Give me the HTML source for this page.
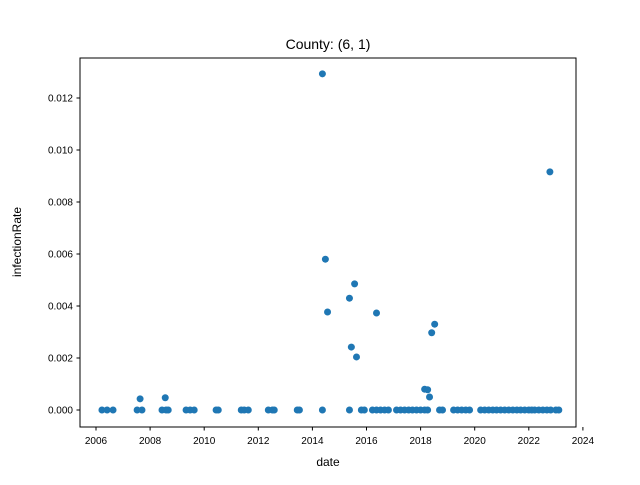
<!DOCTYPE html>
<html><head><meta charset="utf-8"><style>
body{margin:0;background:#fff;}
svg text{font-family:"Liberation Sans","DejaVu Sans",sans-serif;font-size:10px;fill:#000;}
</style></head><body>
<svg id="chart" width="640" height="480" xmlns="http://www.w3.org/2000/svg">
<rect width="640" height="480" fill="#fff"/>
<text x="328" y="49" text-anchor="middle" style="font-size:14px">County: (6, 1)</text>
<g id="plot"></g>
<rect x="80" y="58" width="496" height="369" fill="none" stroke="#000" stroke-width="1"/>
<text x="328" y="466" text-anchor="middle" style="font-size:12px">date</text>
<text transform="translate(21,242) rotate(-90)" text-anchor="middle" style="font-size:12px">infectionRate</text>
</svg>
<script>
const zeroYears = [2006.22,2006.41,2006.63,2007.52,2007.7,2008.44,2008.59,2008.67,2009.33,2009.48,2009.63,2010.44,2010.52,2011.37,2011.48,2011.63,2012.37,2012.52,2012.59,2013.44,2013.52,2014.37,2015.37,2015.81,2015.92,2016.22,2016.37,2016.52,2016.67,2016.81,2017.11,2017.26,2017.41,2017.56,2017.7,2017.85,2018.0,2018.15,2018.26,2018.7,2018.81,2019.22,2019.37,2019.52,2019.67,2019.81,2020.22,2020.37,2020.52,2020.67,2020.81,2020.96,2021.11,2021.26,2021.41,2021.56,2021.7,2021.85,2022.0,2022.11,2022.22,2022.37,2022.52,2022.67,2022.81,2023.0,2023.11];
const nzYears = [2007.63,2008.56,2014.37,2014.48,2014.56,2015.37,2015.44,2015.56,2015.63,2016.37,2018.15,2018.26,2018.33,2018.41,2018.52,2022.78];
const nzValues = [0.00043,0.00047,0.01293,0.0058,0.00377,0.0043,0.00242,0.00485,0.00204,0.00373,0.0008,0.00078,0.0005,0.00297,0.0033,0.00916];
const xTicks = [2006,2008,2010,2012,2014,2016,2018,2020,2022,2024];
const yTicks = [0,0.002,0.004,0.006,0.008,0.010,0.012];
const xs = y => 96 + (y-2006)*27.05;
const ys = v => 410 - v/0.002*52;
const NS="http://www.w3.org/2000/svg";
const g=document.getElementById('plot');
function mk(t,a){const e=document.createElementNS(NS,t);for(const k in a)e.setAttribute(k,a[k]);g.appendChild(e);return e;}
xTicks.forEach(t=>{
  const l=mk('line',{x1:xs(t),x2:xs(t),y1:427,y2:430.5,stroke:'#000'});
  
  
  const tx=mk('text',{x:xs(t),y:444,'text-anchor':'middle'});tx.textContent=t;
  
  
});
yTicks.forEach(t=>{
  const l=mk('line',{x1:76.5,x2:80,y1:ys(t),y2:ys(t),stroke:'#000'});
  
  
  const tx=mk('text',{x:73,y:ys(t)+3.5,'text-anchor':'end'});tx.textContent=t.toFixed(3);
  
  
});
zeroYears.forEach(y=>{
  const c=mk('circle',{cx:xs(y),cy:ys(0),r:3.5,fill:'#1f77b4'});
  
  
});
nzYears.forEach((y,i)=>{
  const c=mk('circle',{cx:xs(y),cy:ys(nzValues[i]),r:3.5,fill:'#1f77b4'});
  
  
});
</script>
</body></html>
